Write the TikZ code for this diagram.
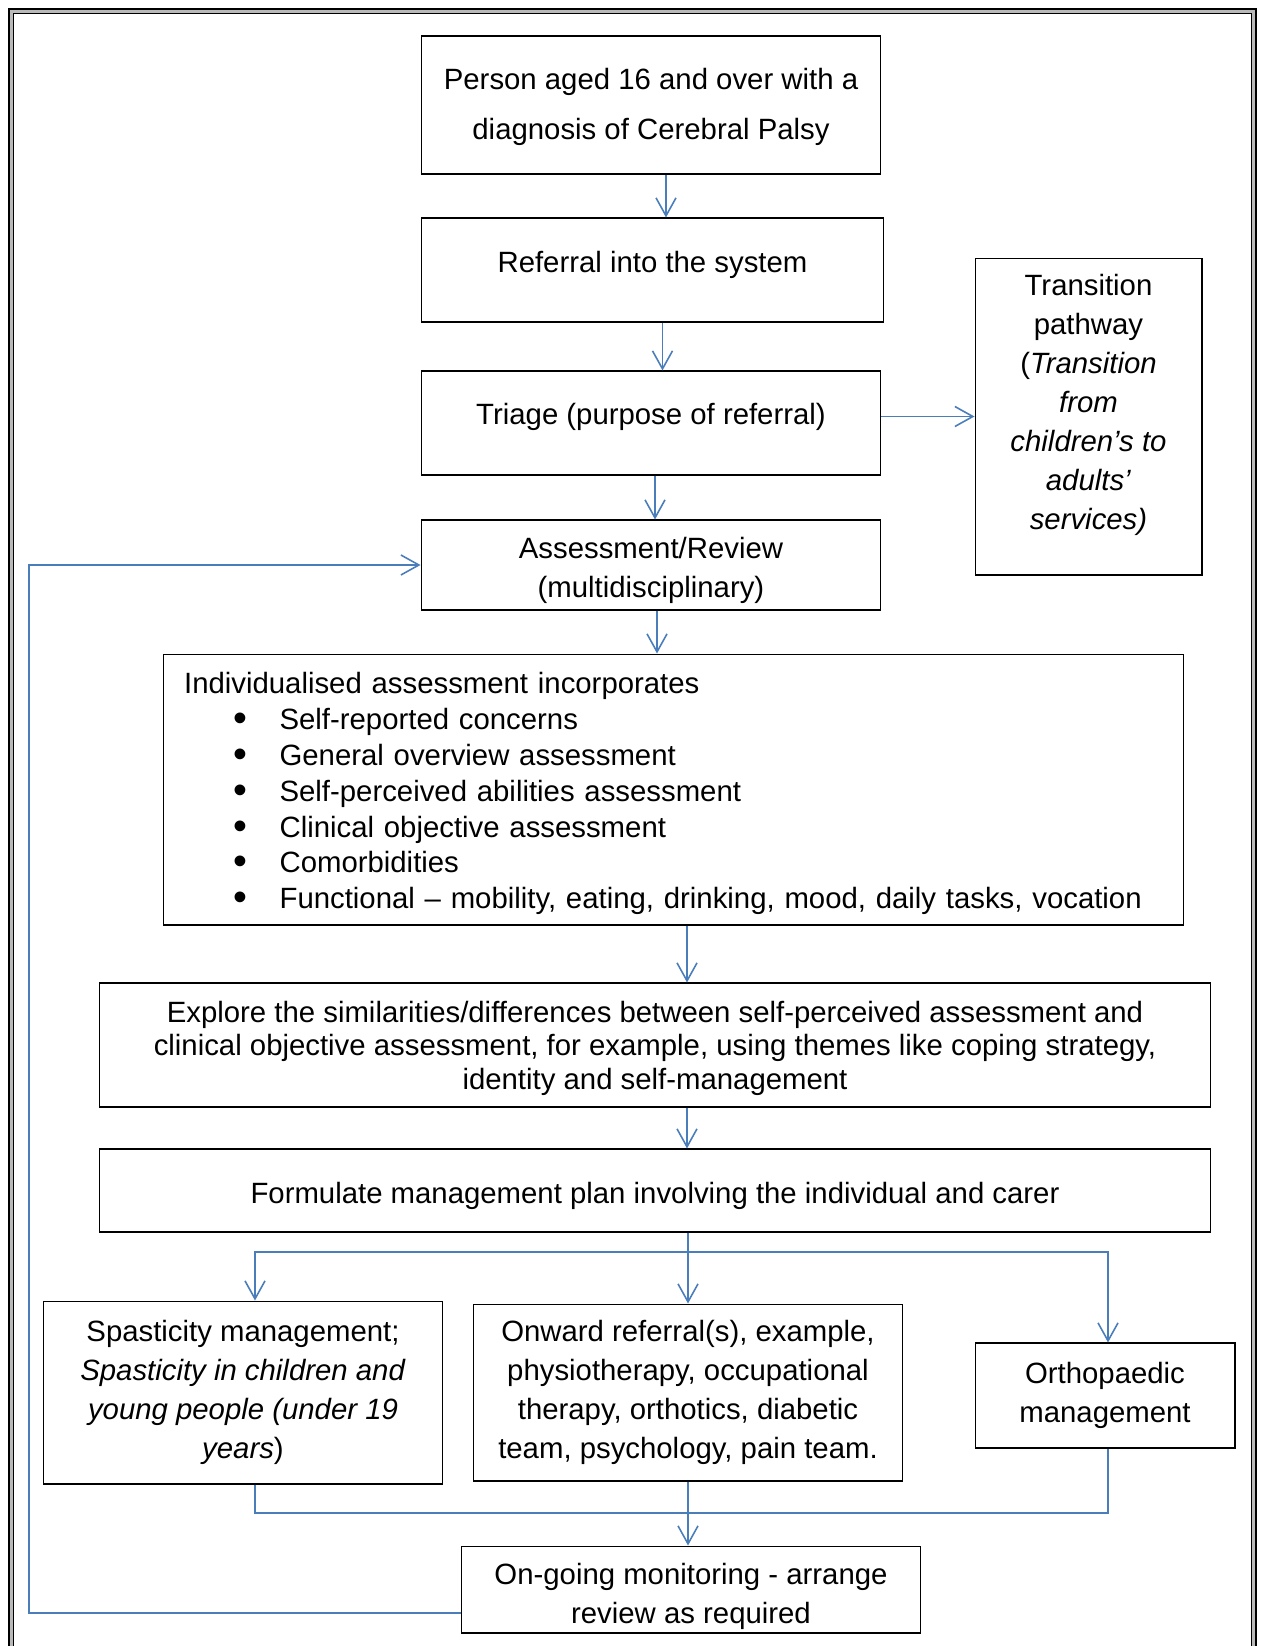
\documentclass[tikz,border=0pt]{standalone}
\usepackage{fontspec}
\setmainfont{Liberation Sans}
\usepackage{graphicx}
\usetikzlibrary{arrows.meta}

\definecolor{flowblue}{RGB}{74,126,187}
\newcommand{\bul}{\hspace*{0.98cm}\makebox[0.93cm][l]{\raisebox{-0.04cm}{\scalebox{1.35}{\textbullet}}}}

\begin{document}
\begin{tikzpicture}[x=0.02cm,y=-0.02cm,
	box/.style={draw,line width=0.6pt,align=center,inner sep=0pt,font=\fontsize{16.7}{22.2}\selectfont},
	flow/.style={draw=flowblue,line width=0.9pt,-{Straight Barb[length=0.36cm,width=0.4cm]}},
	link/.style={draw=flowblue,line width=0.9pt}]
\useasboundingbox (0,0) rectangle (1262,1646);
\clip (0,0) rectangle (1262,1646);

% page frame
\draw[line width=1pt] (9,9) rectangle (1256,1680);
\draw[gray!55,line width=1.4pt] (11.5,11.5) rectangle (1253.5,1680);
\draw[line width=0.5pt] (13.5,13.5) rectangle (1251.5,1680);

\node[box,minimum width=9.2cm,minimum height=2.76cm,font=\fontsize{16.7}{28.4}\selectfont] (person) at (651,105) {\rule{0pt}{0.51cm}Person aged 16 and over with a\\diagnosis of Cerebral Palsy};
\node[box,minimum width=9.26cm,minimum height=2.08cm] (referral) at (652.5,270) {Referral into the system\rule[-0.32cm]{0pt}{0.32cm}};
\node[box,minimum width=9.2cm,minimum height=2.08cm] (triage) at (651,423) {Triage (purpose of referral)\rule[-0.36cm]{0pt}{0.36cm}};
\node[box,minimum width=9.2cm,minimum height=1.8cm] (assess) at (651,565) {\rule{0pt}{0.63cm}Assessment/Review\\(multidisciplinary)};
\node[box,minimum width=4.54cm,minimum height=6.34cm] (trans) at (1088.5,416.5) {Transition\\pathway\\(\textit{Transition}\\\textit{from}\\\textit{children’s to}\\\textit{adults’}\\\textit{services)}\rule[-0.58cm]{0pt}{0.58cm}};

\node[box,align=left,text width=19.58cm,inner xsep=0.42cm,minimum height=5.42cm,font=\fontsize{16.7}{20.4}\selectfont] (indiv) at (673.5,789.5) {\rule{0pt}{0.59cm}Individualised assessment incorporates\\
\bul Self-reported concerns\\
\bul General overview assessment\\
\bul Self-perceived abilities assessment\\
\bul Clinical objective assessment\\
\bul Comorbidities\\
\bul Functional – mobility, eating, drinking, mood, daily tasks, vocation};

\node[box,minimum width=22.24cm,minimum height=2.48cm,font=\fontsize{16.7}{19.1}\selectfont] (explore) at (655,1045) {\rule{0pt}{0.55cm}Explore the similarities/differences between self-perceived assessment and\\clinical objective assessment, for example, using themes like coping strategy,\\identity and self-management};
\node[box,minimum width=22.24cm,minimum height=1.66cm] (plan) at (655,1190.5) {\rule{0pt}{0.63cm}Formulate management plan involving the individual and carer};

\node[box,minimum width=8cm,minimum height=3.66cm] (spas) at (243,1392.5) {Spasticity management;\\\textit{Spasticity in children and}\\\textit{young people (under 19}\\\textit{years})};
\node[box,minimum width=8.6cm,minimum height=3.54cm] (onward) at (688,1392.5) {Onward referral(s), example,\\physiotherapy, occupational\\therapy, orthotics, diabetic\\team, psychology, pain team.};
\node[box,minimum width=5.2cm,minimum height=2.1cm] (ortho) at (1105,1395.5) {Orthopaedic\\management};
\node[box,minimum width=9.2cm,minimum height=1.74cm] (monitor) at (691,1589.5) {\rule{0pt}{0.71cm}On-going monitoring - arrange\\review as required};

% arrows down the middle
\draw[flow] ([xshift=0.3cm]person.south) -- ([xshift=0.3cm]person.south |- referral.north);
\draw[flow] ([xshift=0.2cm]referral.south) -- ([xshift=0.2cm]referral.south |- triage.north);
\draw[flow] ([xshift=0.08cm]triage.south) -- ([xshift=0.08cm]triage.south |- assess.north);
\draw[flow] ([xshift=0.12cm]assess.south) -- ([xshift=0.12cm]assess.south |- indiv.north);
\draw[flow] ([xshift=0.27cm]indiv.south) -- ([xshift=0.27cm]indiv.south |- explore.north);
\draw[flow] ([xshift=0.64cm]explore.south) -- ([xshift=0.64cm]explore.south |- plan.north);
\draw[flow] (triage.east |- trans.west) -- (trans.west);

% split into the three branches
\coordinate (split) at (688,1252);
\draw[link] (plan.south -| split) -- (split);
\draw[flow] (split) -- (onward.north);
\draw[flow] (split) -| ([xshift=0.24cm]spas.north);
\draw[flow] (split) -| ([xshift=0.06cm]ortho.north);

% join again
\coordinate (merge) at (688,1513);
\draw[link] ([xshift=0.24cm]spas.south) |- (merge) -| ([xshift=0.06cm]ortho.south);
\draw[flow] (onward.south) -- (monitor.north -| onward.south);

% back to review
\coordinate (back) at (29,1613);
\draw[flow] (monitor.west |- back) -- (back) |- (assess.west);
\end{tikzpicture}
\end{document}
